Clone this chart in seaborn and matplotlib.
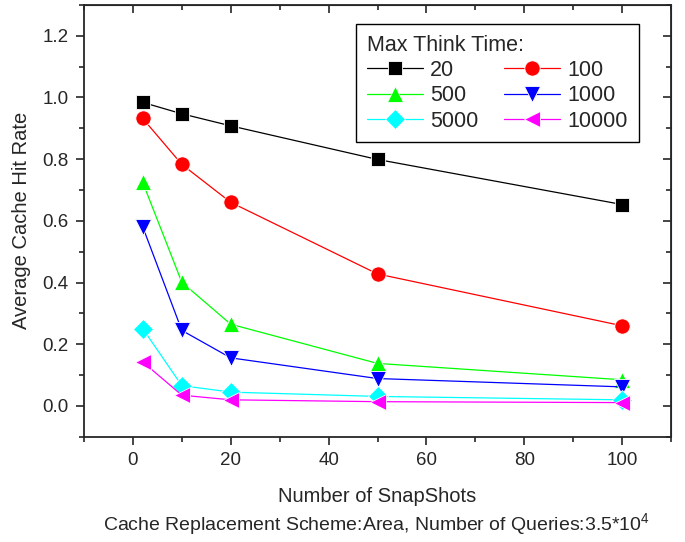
import pandas as pd
import matplotlib
matplotlib.use("Agg")
import matplotlib.pyplot as plt
from matplotlib.ticker import MultipleLocator
import seaborn as sns

# Data
snapshots = [2, 10, 20, 50, 100]
think_times = ["20", "100", "500", "1000", "5000", "10000"]
hit_20 = [0.984, 0.947, 0.908, 0.799, 0.653]
hit_100 = [0.932, 0.783, 0.660, 0.428, 0.260]
hit_500 = [0.725, 0.401, 0.265, 0.138, 0.085]
hit_1000 = [0.581, 0.245, 0.156, 0.089, 0.062]
hit_5000 = [0.251, 0.066, 0.045, 0.031, 0.020]
hit_10000 = [0.143, 0.035, 0.020, 0.014, 0.011]

series = [hit_20, hit_100, hit_500, hit_1000, hit_5000, hit_10000]
rows = []
for name, vals in zip(think_times, series):
    for x, y in zip(snapshots, vals):
        rows.append({"snapshots": x, "hit": y, "think": name})
df = pd.DataFrame(rows)

sns.set_style("ticks")
plt.rcParams["font.family"] = ["Liberation Sans", "DejaVu Sans"]
plt.rcParams["mathtext.fontset"] = "custom"
plt.rcParams["mathtext.rm"] = "Liberation Sans"
plt.rcParams["mathtext.default"] = "regular"

palette = {"20": "#000000", "100": "#ff0000", "500": "#00ff00",
           "1000": "#0000ff", "5000": "#00ffff", "10000": "#ff00ff"}
markers = {"20": "s", "100": "o", "500": "^", "1000": "v", "5000": "D", "10000": "<"}
msize = {"s": 10, "o": 11, "^": 12, "v": 12, "D": 10, "<": 12}

fig = plt.figure(figsize=(6.85, 5.42), dpi=100)
ax = fig.add_axes([0.1226, 0.194, 0.857, 0.797])

sns.lineplot(data=df, x="snapshots", y="hit", hue="think", style="think",
             hue_order=think_times, style_order=think_times,
             palette=palette, markers=markers, dashes=False,
             markersize=9, markeredgecolor="white", markeredgewidth=0.6,
             linewidth=0.9, ax=ax)
for ln in ax.lines:
    m = ln.get_marker()
    if m in msize:
        ln.set_markersize(msize[m])

ax.set_xlim(-10, 110)
ax.set_ylim(-0.1, 1.3)
ax.xaxis.set_major_locator(MultipleLocator(20))
ax.xaxis.set_minor_locator(MultipleLocator(10))
ax.yaxis.set_major_locator(MultipleLocator(0.2))
ax.yaxis.set_minor_locator(MultipleLocator(0.1))
ax.yaxis.set_major_formatter(plt.FuncFormatter(lambda v, p: f"{v:.1f}"))
ax.tick_params(which="both", direction="out", width=1.2, labelsize=13.5)
ax.tick_params(which="major", length=6, pad=5)
ax.tick_params(which="minor", length=3.5)
for s in ax.spines.values():
    s.set_linewidth(1.3)

# mirrored ticks on top / right (inward)
top = ax.secondary_xaxis("top")
top.xaxis.set_major_locator(MultipleLocator(20))
top.xaxis.set_minor_locator(MultipleLocator(10))
top.tick_params(which="both", direction="in", width=1.2, labeltop=False)
top.tick_params(which="major", length=6)
top.tick_params(which="minor", length=3.5)
right = ax.secondary_yaxis("right")
right.yaxis.set_major_locator(MultipleLocator(0.2))
right.yaxis.set_minor_locator(MultipleLocator(0.1))
right.tick_params(which="both", direction="in", width=1.2, labelright=False)
right.tick_params(which="major", length=6)
right.tick_params(which="minor", length=3.5)

ax.set_xlabel("Number of SnapShots", fontsize=14.5, labelpad=13)
ax.set_ylabel("Average Cache Hit Rate", fontsize=14.5, labelpad=8)
fig.text(0.55, 0.022, "Cache Replacement Scheme:Area, Number of Queries:3.5*10$^4$",
         ha="center", fontsize=14)

# row-wise legend order (matplotlib fills columns first)
handles, labels = ax.get_legend_handles_labels()
lookup = dict(zip(labels, handles))
order = ["20", "500", "5000", "100", "1000", "10000"]
leg = ax.legend([lookup[k] for k in order], order, title="Max Think Time:", ncol=2,
                loc="upper left", bbox_to_anchor=(0.463, 0.956), borderaxespad=0,
                fontsize=15.5, title_fontsize=15.5, alignment="left",
                fancybox=False, edgecolor="black", framealpha=1,
                handlelength=2.6, columnspacing=1.2, handletextpad=0.35,
                labelspacing=0.2, borderpad=0.5)
leg.get_frame().set_linewidth(1.0)
for h in leg.legend_handles:
    m = h.get_marker()
    if m in msize:
        h.set_markersize(msize[m])

fig.savefig("out.png", dpi=100)
